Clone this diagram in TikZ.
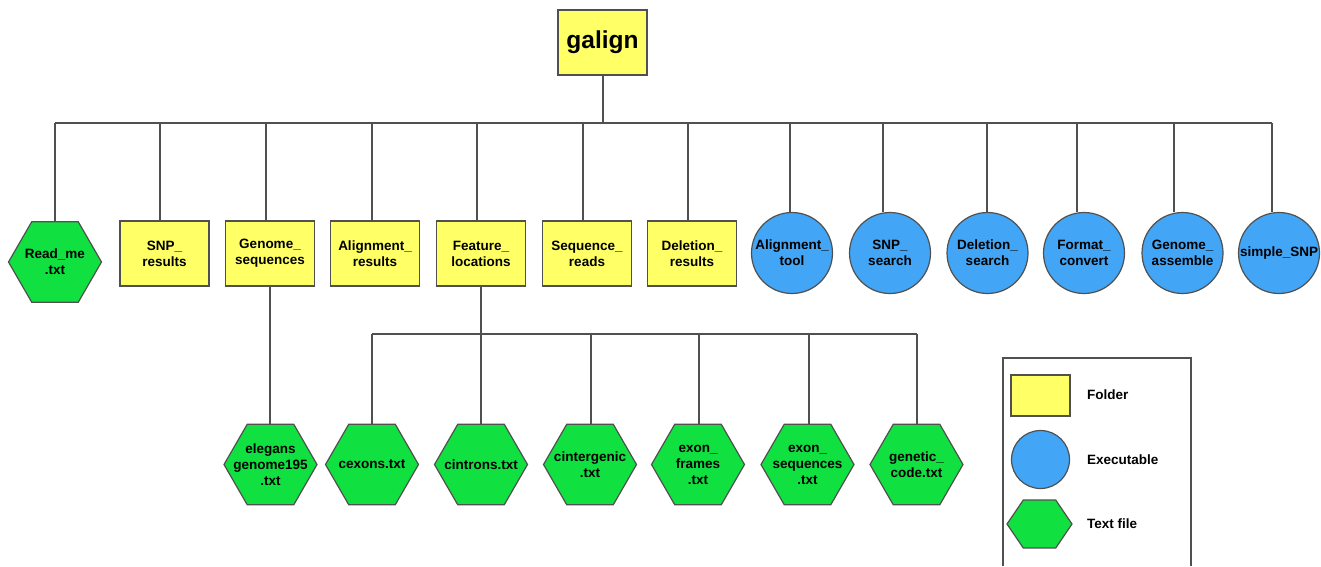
\documentclass[tikz,border=0pt]{standalone}
\usepackage{fontspec}
\setmainfont{Liberation Sans}
\usetikzlibrary{shapes.geometric}
\definecolor{fyellow}{HTML}{FFFF66}
\definecolor{eblue}{HTML}{42A5F5}
\definecolor{tgreen}{HTML}{10E040}
\definecolor{edgec}{HTML}{505050}
\begin{document}
\begin{tikzpicture}[x=1pt,y=-1pt,
  every node/.style={font=\fontsize{13.5}{16}\selectfont\bfseries, align=center},
  folder/.style={draw=edgec, line width=1.2pt, fill=fyellow, minimum width=89pt, minimum height=65pt, inner sep=0pt},
  exe/.style={circle, draw=edgec, line width=1.2pt, fill=eblue, minimum size=81pt, inner sep=0pt},
  txtf/.style={regular polygon, regular polygon sides=6, draw=edgec, line width=1.2pt, fill=tgreen, minimum size=93pt, inner sep=0pt},
  conn/.style={draw=edgec, line width=1.2pt},
  legtext/.style={anchor=west, inner sep=0pt},
]
\useasboundingbox (0,0) rectangle (1321,566);

% root
\node[folder, font=\fontsize{24.5}{28}\selectfont\bfseries] (root) at (602.5,42.5) {galign};

% top level children
\node[txtf, label={center:{Read\_me\\.txt}}] (readme) at (55,262) {};
\node[folder] (snpres) at (164.5,253.5) {SNP\_\\results};
\node[folder] (genseq) at (270,253.5) {Genome\_\\sequences};
\node[folder] (alnres) at (375,253.5) {Alignment\_\\results};
\node[folder] (featloc) at (481,253.5) {Feature\_\\locations};
\node[folder] (seqreads) at (587,253.5) {Sequence\_\\reads};
\node[folder] (delres) at (692,253.5) {Deletion\_\\results};
\node[exe] (alntool) at (792,253) {Alignment\_\\tool};
\node[exe] (snpsearch) at (890,253) {SNP\_\\search};
\node[exe] (delsearch) at (987.5,253) {Deletion\_\\search};
\node[exe] (fmtconv) at (1084,253) {Format\_\\convert};
\node[exe] (genasm) at (1182.5,253) {Genome\_\\assemble};
\node[exe] (simplesnp) at (1279,253) {simple\_SNP};

% second level
\node[txtf, label={center:{elegans\\genome195\\.txt}}] (elegans) at (270.5,464.5) {};
\node[txtf, label={center:{cexons.txt}}] (cexons) at (372,464.5) {};
\node[txtf, label={center:{cintrons.txt}}] (cintrons) at (481,464.5) {};
\node[txtf, label={center:{cintergenic\\.txt}}] (cinter) at (590,464.5) {};
\node[txtf, label={center:{exon\_\\frames\\.txt}}] (exframes) at (698,464.5) {};
\node[txtf, label={center:{exon\_\\sequences\\.txt}}] (exseq) at (807.5,464.5) {};
\node[txtf, label={center:{genetic\_\\code.txt}}] (gencode) at (916.5,464.5) {};

% main bus
\coordinate (bus0) at (603,123);
\coordinate (busL) at (55,123);
\coordinate (busR) at (1272,123);
\draw[conn] (root.south -| bus0) -- (bus0);
\draw[conn] (busL) -- (busR);
\coordinate (b1) at (55,123);
\coordinate (b2) at (160,123);
\coordinate (b3) at (266,123);
\coordinate (b4) at (372,123);
\coordinate (b5) at (477,123);
\coordinate (b6) at (583,123);
\coordinate (b7) at (688,123);
\coordinate (b8) at (790,123);
\coordinate (b9) at (883,123);
\coordinate (b10) at (987,123);
\coordinate (b11) at (1077,123);
\coordinate (b12) at (1174,123);
\coordinate (b13) at (1272,123);
\draw[conn] (b1) -- (b1 |- readme.north);
\draw[conn] (b2) -- (b2 |- snpres.north);
\draw[conn] (b3) -- (b3 |- genseq.north);
\draw[conn] (b4) -- (b4 |- alnres.north);
\draw[conn] (b5) -- (b5 |- featloc.north);
\draw[conn] (b6) -- (b6 |- seqreads.north);
\draw[conn] (b7) -- (b7 |- delres.north);
\draw[conn] (b8) -- (b8 |- alntool.north);
\draw[conn] (b9) -- (b9 |- snpsearch.north);
\draw[conn] (b10) -- (b10 |- delsearch.north);
\draw[conn] (b11) -- (b11 |- fmtconv.north);
\draw[conn] (b12) -- (b12 |- genasm.north);
\draw[conn] (b13) -- (b13 |- simplesnp.north);

% genome sequences child
\draw[conn] (genseq.south) -- (genseq.south |- elegans.north);

% feature locations bus
\coordinate (fbus) at (481,334);
\coordinate (fbusL) at (372,334);
\coordinate (fbusR) at (917,334);
\draw[conn] (featloc.south) -- (fbus);
\draw[conn] (fbusL) -- (fbusR);
\coordinate (f1) at (372,334);
\coordinate (f2) at (481,334);
\coordinate (f3) at (591,334);
\coordinate (f4) at (699,334);
\coordinate (f5) at (809,334);
\coordinate (f6) at (917,334);
\draw[conn] (f1) -- (f1 |- cexons.north);
\draw[conn] (f2) -- (f2 |- cintrons.north);
\draw[conn] (f3) -- (f3 |- cinter.north);
\draw[conn] (f4) -- (f4 |- exframes.north);
\draw[conn] (f5) -- (f5 |- exseq.north);
\draw[conn] (f6) -- (f6 |- gencode.north);

% legend
\draw[conn] (1003,566) -- (1003,358) -- (1191,358) -- (1191,566);
\node[folder, minimum width=59pt, minimum height=41pt] (lfolder) at (1040.5,395.5) {};
\node[exe, minimum size=58pt] (lexe) at (1040.5,459.5) {};
\node[txtf, minimum size=65pt, yscale=0.85] (ltxt) at (1039.5,524) {};
\node[legtext] (lfoldert) at (1087,395) {Folder};
\node[legtext] (lexet) at (1087,460) {Executable};
\node[legtext] (ltxtt) at (1087,524) {Text file};
\end{tikzpicture}
\end{document}
